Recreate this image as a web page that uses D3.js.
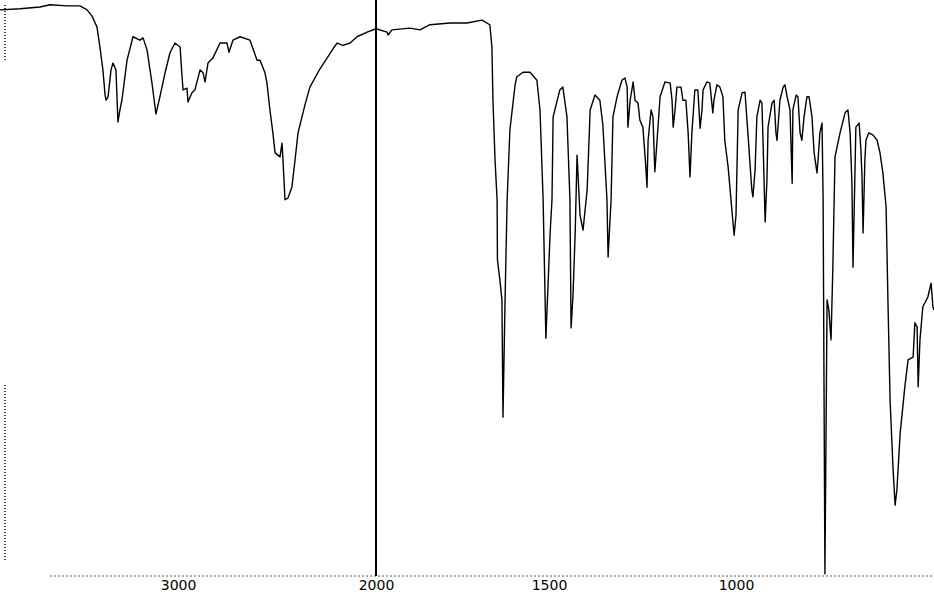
<!DOCTYPE html>
<html><head><meta charset="utf-8">
<script src="https://cdn.jsdelivr.net/npm/d3@7"></script>
<style>html,body{margin:0;padding:0;background:#fff;}svg{display:block;}</style>
</head><body>
<svg id="c" width="934" height="596"></svg>
<script>
const wavenumber = [3900,3799,3698,3647,3561,3496,3460,3435,3410,3395,3380,3369,3364,3354,3339,3329,3314,3304,3294,3284,3258,3228,3193,3177,3157,3132,3112,3092,3066,3041,3016,2990,2980,2975,2955,2950,2930,2915,2889,2874,2864,2849,2824,2788,2753,2743,2723,2687,2637,2601,2586,2561,2551,2536,2521,2510,2485,2475,2470,2460,2445,2425,2409,2394,2384,2359,2334,2283,2217,2197,2167,2131,2096,2045,2000,
1968,1965,1954,1902,1873,1844,1786,1737,1694,1671,1665,1662,1656,1650,1649,1642,1636,1633,1627,1621,1613,1598,1593,1575,1555,1535,1526,1517,1509,1497,1492,1489,1471,1463,1452,1444,1441,1436,1430,1425,1417,1409,1398,1390,1377,1364,1356,1345,1342,1334,1329,1318,1305,1297,1291,1289,1283,1275,1270,1262,1257,1249,1241,1238,1235,1227,1222,1219,1217,1211,1203,1190,1176,1171,1168,1163,1158,1147,1142,1134,1128,1123,1118,1110,1102,1096,1091,1088,1078,1070,1062,1059,1051,1043,1035,1030,1021,1011,1005,
1000,994,983,975,967,956,953,947,942,933,928,925,919,914,911,900,894,889,886,878,869,864,858,850,844,842,833,828,822,817,811,803,797,789,783,775,772,767,761,758,753,747,742,736,731,725,711,697,689,683,678,675,667,658,653,650,647,642,639,631,619,608,600,592,583,578,572,564,558,553,544,531,522,508,503,497,494,489,481,467,458,453,450];
const transmittance = [98.8,99.0,99.3,99.7,99.5,99.5,98.8,97.7,95.8,92.3,88.3,83.9,83.0,83.6,88.3,89.5,88.3,79.2,81.3,83.0,90.0,94.1,93.5,93.9,91.8,86.0,80.6,83.6,87.8,91.3,93.0,92.3,87.1,84.8,85.1,82.7,84.3,84.8,88.3,87.8,86.2,89.5,90.4,93.0,93.0,91.4,93.5,94.1,93.5,90.0,90.0,87.8,86.0,81.3,77.3,73.8,73.1,75.5,72.6,65.6,65.9,67.8,72.6,77.3,78.7,82.2,85.3,88.5,92.0,93.0,92.6,93.0,94.1,94.9,95.5,
94.9,94.4,95.3,95.6,95.3,96.2,96.5,96.5,97.0,96.2,92.3,83.0,72.6,65.6,55.1,51.6,48.1,27.6,48.1,65.6,77.8,85.7,87.1,87.9,87.9,86.5,81.3,65.6,41.4,59.8,65.6,80.1,84.8,85.3,80.1,65.6,43.2,48.6,59.8,73.4,62.9,60.3,67.3,81.3,83.9,83.0,78.7,65.6,55.6,65.6,80.1,83.6,86.5,86.9,85.3,78.3,83.0,86.2,83.0,82.5,79.5,78.3,71.3,67.8,76.0,81.3,80.1,74.3,70.5,76.0,83.6,86.2,86.0,83.0,78.3,81.3,85.3,85.3,83.0,83.0,77.3,69.6,77.3,84.8,84.8,78.1,81.3,84.8,86.2,86.0,80.8,83.0,85.7,85.3,83.6,76.0,71.3,63.8,59.4,
62.9,81.3,84.3,84.4,77.3,67.3,66.1,70.8,80.1,83.0,82.5,76.0,61.7,69.1,78.3,82.5,83.0,77.3,76.0,83.0,85.3,85.7,83.6,81.3,68.5,81.3,83.9,83.6,77.3,76.0,80.1,83.6,83.6,80.1,73.8,70.3,72.6,77.3,79.0,65.6,0.2,48.1,46.3,41.1,53.8,73.1,77.3,80.8,81.3,77.3,68.5,53.8,78.3,79.0,74.3,69.6,59.8,72.6,76.0,77.3,76.9,76.0,73.8,70.3,64.3,48.1,30.6,18.9,12.2,14.9,24.8,32.9,37.6,38.1,44.1,43.4,32.9,41.1,46.9,48.6,51.0,46.9,46.3];
const tickLabels = [3000, 2000, 1500, 1000];
const scaleBreak = 2000;

const svg = d3.select("#c");
const x = d3.scaleLinear().domain([3900, 2000, 1500, 1000, 450]).range([0, 376, 549, 736, 934]);
const y = d3.scaleLinear().domain([0, 100]).range([575, 3]);

// left dotted axis remnants
svg.append("line").attr("x1",5).attr("x2",5).attr("y1",5).attr("y2",60)
  .attr("stroke","#000").attr("stroke-width",1.5).attr("stroke-dasharray","1,2");
svg.append("line").attr("x1",5).attr("x2",5).attr("y1",385).attr("y2",560)
  .attr("stroke","#000").attr("stroke-width",1.5).attr("stroke-dasharray","1,2");

// bottom axis
const ax = svg.append("g").attr("transform","translate(0,576)")
  .call(d3.axisBottom(x).tickValues(tickLabels).tickSize(0).tickPadding(4).tickFormat(d3.format("d")));
ax.select(".domain").attr("stroke","#555").attr("stroke-dasharray","2,2").attr("stroke-width",1)
  .attr("d","M50,0H934");
ax.selectAll("text").attr("font-family","'DejaVu Sans', Verdana, sans-serif").attr("font-size",14).attr("fill","#000");

// scale change marker
svg.append("line").attr("x1",x(scaleBreak)).attr("x2",x(scaleBreak)).attr("y1",0).attr("y2",576)
  .attr("stroke","#000").attr("stroke-width",2);

// spectrum
const pts = wavenumber.map((w,i)=>[w, transmittance[i]]);
svg.append("path").datum(pts)
  .attr("d", d3.line().x(d=>x(d[0])).y(d=>y(d[1])))
  .attr("fill","none").attr("stroke","#000").attr("stroke-width",1.4).attr("stroke-linejoin","round");
</script>
</body></html>
